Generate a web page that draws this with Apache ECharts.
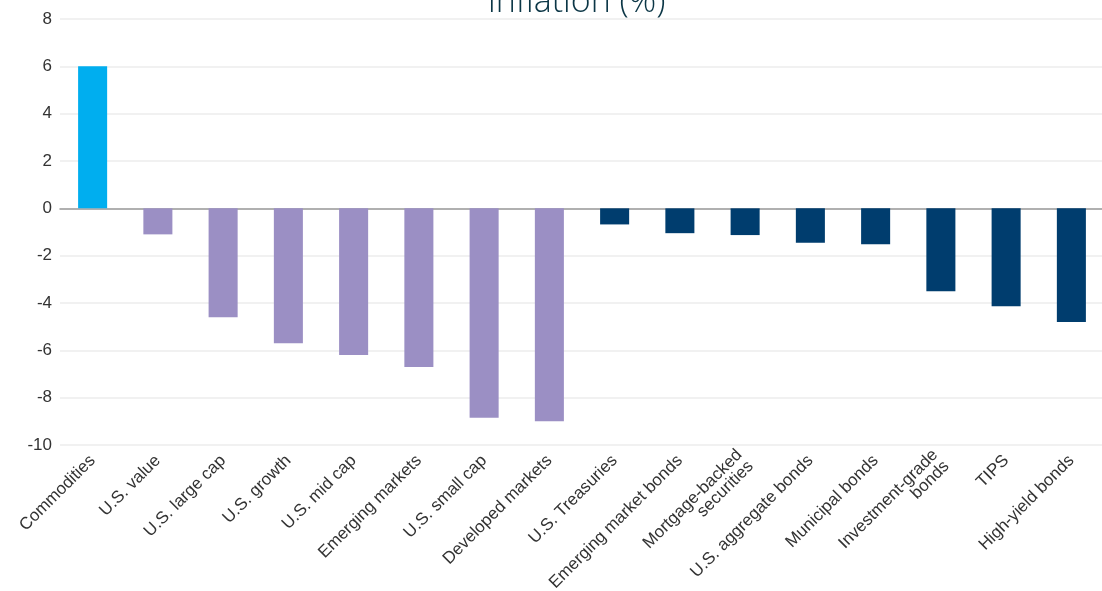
<!DOCTYPE html>
<html>
<head>
<meta charset="utf-8">
<script src="https://cdn.jsdelivr.net/npm/echarts@6/dist/echarts.min.js"></script>
<style>
html,body{margin:0;padding:0;background:#fff;}
#chart{width:1102px;height:591px;}
</style>
</head>
<body>
<div id="chart"></div>
<script>
const categories = ["Commodities","U.S. value","U.S. large cap","U.S. growth","U.S. mid cap","Emerging markets","U.S. small cap","Developed markets","U.S. Treasuries","Emerging market bonds","Mortgage-backed\nsecurities","U.S. aggregate bonds","Municipal bonds","Investment-grade\nbonds","TIPS","High-yield bonds"];
const values = [6.0,-1.1,-4.6,-5.7,-6.2,-6.7,-8.85,-9.0,-0.68,-1.05,-1.13,-1.45,-1.52,-3.5,-4.14,-4.8];
const groups = ["commodity","equity","equity","equity","equity","equity","equity","equity","bond","bond","bond","bond","bond","bond","bond","bond"];
const groupColors = {commodity:"#00aeef", equity:"#9b8fc4", bond:"#003d6e"};
const yTicks = {min:-10, max:8, interval:2};

const chart = echarts.init(document.getElementById('chart'));
chart.setOption({
  animation:false,
  backgroundColor:'#ffffff',
  title:{
    text:'inflation (%)',
    left:483, top:-20,
    textStyle:{fontFamily:'Open Sans', fontWeight:300, fontSize:34, color:'#0b3646'}
  },
  grid:{left:60, right:-2, top:19, bottom:146, containLabel:false, outerBoundsMode:'none'},
  xAxis:{
    type:'category',
    data:categories,
    axisLine:{onZero:true, lineStyle:{color:'#9a9a9a', width:1.5}},
    axisTick:{show:false},
    axisLabel:{
      interval:0, rotate:45, margin:13,
      fontFamily:'Liberation Sans, Arial, sans-serif',
      fontSize:17, color:'#333', lineHeight:16
    }
  },
  yAxis:{
    type:'value',
    min:yTicks.min, max:yTicks.max, interval:yTicks.interval,
    axisLine:{show:false}, axisTick:{show:false},
    axisLabel:{fontFamily:'Liberation Sans, Arial, sans-serif', fontSize:17, color:'#333', margin:8},
    splitLine:{lineStyle:{color:'#ececec', width:1.5}}
  },
  series:[{
    type:'bar',
    barWidth:'44.5%',
    data:values.map((v,i)=>({value:v, itemStyle:{color:groupColors[groups[i]]}}))
  }]
});
</script>
</body>
</html>
